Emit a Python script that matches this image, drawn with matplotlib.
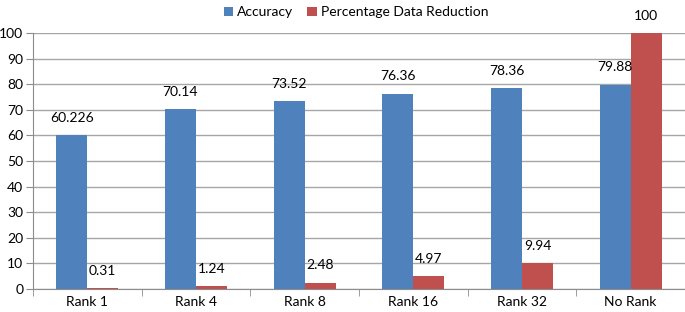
import numpy as np
import matplotlib
matplotlib.use("Agg")
import matplotlib.pyplot as plt

categories = ["Rank 1", "Rank 4", "Rank 8", "Rank 16", "Rank 32", "No Rank"]
accuracy = [60.226, 70.14, 73.52, 76.36, 78.36, 79.88]
reduction = [0.31, 1.24, 2.48, 4.97, 9.94, 100]
acc_labels = ["60.226", "70.14", "73.52", "76.36", "78.36", "79.88"]
red_labels = ["0.31", "1.24", "2.48", "4.97", "9.94", "100"]

plt.rcParams['font.family'] = ['Lato', 'DejaVu Sans']

fig = plt.figure(figsize=(6.85, 3.12), dpi=100)
ax = fig.add_axes([0.048, 0.074, 0.952, 0.82])

x = np.arange(len(categories))
w = 0.285
b1 = ax.bar(x - w/2, accuracy, w, color='#4f81bd', label='Accuracy', zorder=3)
b2 = ax.bar(x + w/2, reduction, w, color='#c0504d', label='Percentage Data Reduction', zorder=3)

for xi, v, t in zip(x, accuracy, acc_labels):
    ax.annotate(t, (xi - w/2, v), xytext=(0, 8), textcoords='offset points',
                ha='center', va='bottom', fontsize=10)
for xi, v, t in zip(x, reduction, red_labels):
    ax.annotate(t, (xi + w/2, v), xytext=(0, 8), textcoords='offset points',
                ha='center', va='bottom', fontsize=10)

ax.set_xlim(-0.5, len(categories) - 0.5)
ax.set_ylim(0, 100)
ax.set_yticks(range(0, 101, 10))
ax.yaxis.grid(True, color='#a6a6a6', linewidth=1)
ax.set_axisbelow(True)

ax.set_xticks(x)
ax.set_xticklabels(categories, fontsize=10)
ax.set_xticks(np.arange(-0.5, len(categories)), minor=True)
ax.tick_params(axis='x', which='major', length=0, pad=5)
ax.tick_params(axis='x', which='minor', length=5, color='#8c8c8c')
ax.tick_params(axis='y', length=5, color='#8c8c8c', labelsize=10, pad=2)

for s in ['top', 'right']:
    ax.spines[s].set_visible(False)
for s in ['left', 'bottom']:
    ax.spines[s].set_color('#8c8c8c')

fig.legend(handles=[b1, b2], loc='upper center', bbox_to_anchor=(0.52, 1.02),
           ncol=2, frameon=False, fontsize=10, handlelength=0.7, handleheight=0.7,
           handletextpad=0.3, columnspacing=1.0)

fig.savefig("out.png", dpi=100)
